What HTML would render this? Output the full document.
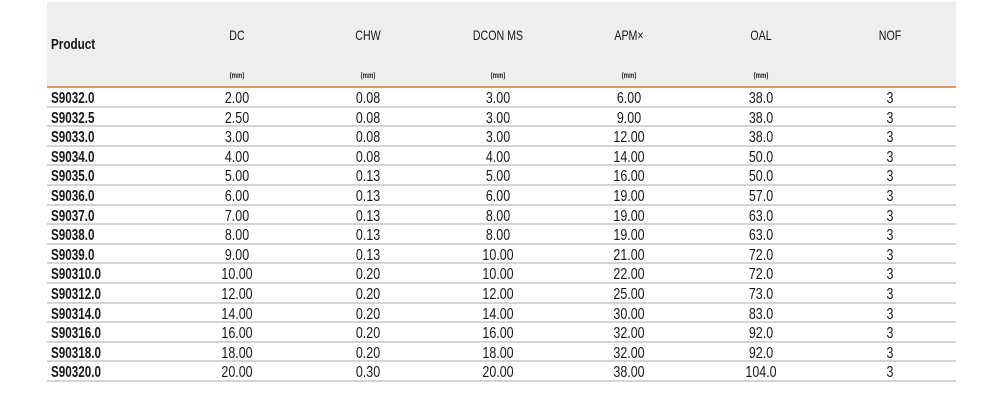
<!DOCTYPE html>
<html><head><style>
html,body{margin:0;padding:0;background:#fff;width:1002px;height:410px;overflow:hidden}
body{position:relative;font-family:"Liberation Sans",sans-serif;color:#1a1718}
.hdr{position:absolute;left:47px;top:2px;width:909px;height:84px;background:#eeeeef;border-bottom:2px solid #f39a4a}
.t{position:absolute;font-size:14px;transform:translateX(-50%) scaleX(0.76);white-space:nowrap}
.mm{position:absolute;font-size:8px;transform:translateX(-50%) scaleX(0.75);top:71px;font-weight:bold}
.row{position:absolute;left:47px;width:909px;height:19.6px;border-bottom:2px solid #d4d4d6;box-sizing:border-box}
.c{position:absolute;top:2px;font-size:16px;transform:translateX(-50%) scaleX(0.78);white-space:nowrap;line-height:18px}
.p{position:absolute;left:4px;top:2px;font-size:16px;font-weight:bold;line-height:18px;transform:scaleX(0.73);transform-origin:left}
</style></head><body>
<div class="hdr"></div>
<div style="position:absolute;left:51px;top:36px;font-size:15px;font-weight:bold;transform:scaleX(0.78);transform-origin:left">Product</div>
<div class="t" style="left:237px;top:27px">DC</div>
<div class="t" style="left:368px;top:27px">CHW</div>
<div class="t" style="left:498px;top:27px">DCON MS</div>
<div class="t" style="left:629px;top:27px">APM×</div>
<div class="t" style="left:761px;top:27px">OAL</div>
<div class="t" style="left:890px;top:27px">NOF</div>
<div class="mm" style="left:237px">(mm)</div>
<div class="mm" style="left:368px">(mm)</div>
<div class="mm" style="left:498px">(mm)</div>
<div class="mm" style="left:629px">(mm)</div>
<div class="mm" style="left:761px">(mm)</div>
<div id="rows"></div>
<script>
var d=[["S9032.0","2.00","0.08","3.00","6.00","38.0"],["S9032.5","2.50","0.08","3.00","9.00","38.0"],["S9033.0","3.00","0.08","3.00","12.00","38.0"],["S9034.0","4.00","0.08","4.00","14.00","50.0"],["S9035.0","5.00","0.13","5.00","16.00","50.0"],["S9036.0","6.00","0.13","6.00","19.00","57.0"],["S9037.0","7.00","0.13","8.00","19.00","63.0"],["S9038.0","8.00","0.13","8.00","19.00","63.0"],["S9039.0","9.00","0.13","10.00","21.00","72.0"],["S90310.0","10.00","0.20","10.00","22.00","72.0"],["S90312.0","12.00","0.20","12.00","25.00","73.0"],["S90314.0","14.00","0.20","14.00","30.00","83.0"],["S90316.0","16.00","0.20","16.00","32.00","92.0"],["S90318.0","18.00","0.20","18.00","32.00","92.0"],["S90320.0","20.00","0.30","20.00","38.00","104.0"]];
var xs=[237,368,498,629,761,890].map(function(x){return x-47});var h="";
d.forEach(function(r,i){h+='<div class="row" style="top:'+(88+i*19.6)+'px"><div class="p">'+r[0]+'</div>';
for(var j=1;j<6;j++)h+='<div class="c" style="left:'+xs[j-1]+'px">'+r[j]+'</div>';
h+='<div class="c" style="left:'+xs[5]+'px">3</div></div>';});
document.getElementById("rows").innerHTML=h;
</script>
</body></html>
